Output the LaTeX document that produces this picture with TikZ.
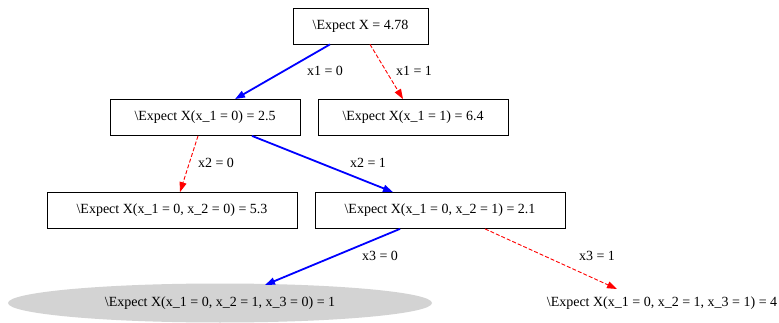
\documentclass[tikz,border=0pt]{standalone}
\usepackage{fontspec}
\setmainfont{Liberation Serif}
\usetikzlibrary{shapes.geometric,arrows.meta,calc}
\definecolor{lgray}{HTML}{D3D3D3}
\begin{document}
\begin{tikzpicture}[x=1pt,y=-1pt,
  every node/.style={font=\fontsize{14}{16}\selectfont, inner sep=0pt},
  box/.style={draw, line width=0.8pt, minimum height=36pt},
  lbl/.style={},
  yes/.style={draw=blue, line width=1.8pt, -{Triangle[length=10pt,width=7pt]}, fill=blue},
  no/.style={draw=red, line width=0.9pt, dashed, dash pattern=on 4pt off 2pt, -{Triangle[length=10pt,width=7pt,fill=red]}}
]
\useasboundingbox (0,0) rectangle (779,323);
\node[box, minimum width=135pt] (root) at (360.5,26) {\textbackslash Expect X = 4.78};
\node[box, minimum width=190pt] (A) at (205,117.5) {\textbackslash Expect X(x\_1 = 0) = 2.5};
\node[box, minimum width=190pt] (B) at (413,117.5) {\textbackslash Expect X(x\_1 = 1) = 6.4};
\node[box, minimum width=250pt] (C) at (172,210.5) {\textbackslash Expect X(x\_1 = 0, x\_2 = 0) = 5.3};
\node[box, minimum width=250pt] (D) at (440,210.5) {\textbackslash Expect X(x\_1 = 0, x\_2 = 1) = 2.1};
\node[ellipse, fill=lgray, minimum width=424pt, minimum height=39pt] (E) at (220,303) {\textbackslash Expect X(x\_1 = 0, x\_2 = 1, x\_3 = 0) = 1};
\node (F) at (662,303) {\textbackslash Expect X(x\_1 = 0, x\_2 = 1, x\_3 = 1) = 4};

\node[lbl] (l1) at (325,71) {x1 = 0};
\node[lbl] (l2) at (414,71) {x1 = 1};
\node[lbl] (l3) at (216,163) {x2 = 0};
\node[lbl] (l4) at (368,163) {x2 = 1};
\node[lbl] (l5) at (380,256) {x3 = 0};
\node[lbl] (l6) at (597,256) {x3 = 1};

\draw[yes] ($(root.south)+(-30.5,0)$) -- ($(A.north)+(30,0)$);
\draw[no] ($(root.south)+(9.5,0)$) -- ($(B.north)+(-10,0)$);
\draw[no] ($(A.south)+(-7,0)$) -- ($(C.north)+(8,0)$);
\draw[yes] ($(A.south)+(47,0)$) -- ($(D.north)+(-47,0)$);
\draw[yes] ($(D.south)+(-40,0)$) -- ($(E.center)+(45,-18)$);
\draw[no] ($(D.south)+(45,0)$) -- ($(F.center)+(-45,-14)$);
\end{tikzpicture}
\end{document}
